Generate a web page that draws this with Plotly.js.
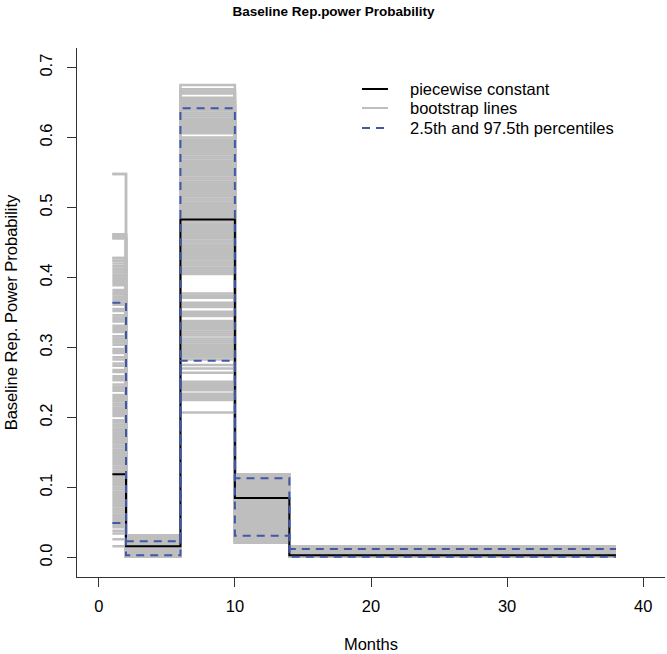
<!DOCTYPE html>
<html>
<head>
<meta charset="utf-8">
<script src="https://cdn.plot.ly/plotly-3.0.1.min.js"></script>
<style>
  html, body { margin: 0; padding: 0; background: #ffffff; }
  #chart { width: 667px; height: 654px; }
</style>
</head>
<body>
<div id="chart"></div>
<script>
// Interval breakpoints (months) of the piecewise-constant model
const breaks = [1, 2, 6, 10, 14, 38];

// Piecewise constant estimate per interval
const piecewise = [0.119, 0.016, 0.483, 0.085, 0.003];

// 2.5th and 97.5th percentiles per interval
const pctUpper = [0.364, 0.023, 0.642, 0.113, 0.012];
const pctLower = [0.049, 0.003, 0.281, 0.031, 0.001];

// Bootstrap values read per interval
const bootI1 = [0.548, 0.462, 0.459, 0.456, 0.428, 0.424, 0.420, 0.416, 0.413, 0.410, 0.407, 0.404, 0.401, 0.398, 0.395, 0.392, 0.389,
  0.382, 0.379, 0.376, 0.373, 0.370, 0.367, 0.364, 0.361, 0.355, 0.352, 0.346, 0.343, 0.340, 0.337, 0.331, 0.328, 0.325, 0.322,
  0.316, 0.313, 0.310, 0.307, 0.304, 0.298, 0.295, 0.292, 0.286, 0.283, 0.277, 0.274, 0.268, 0.265, 0.259, 0.256, 0.253,
  0.247, 0.244, 0.241, 0.238, 0.232, 0.229, 0.226, 0.223, 0.220, 0.217, 0.214, 0.211, 0.208, 0.205, 0.202, 0.196, 0.193,
  0.190, 0.187, 0.184, 0.181, 0.178, 0.175, 0.172, 0.169, 0.166, 0.163, 0.160, 0.157, 0.154, 0.151, 0.148, 0.145, 0.142,
  0.139, 0.136, 0.133, 0.130, 0.127, 0.124, 0.121, 0.118, 0.115, 0.112, 0.109, 0.106, 0.103, 0.100, 0.097, 0.094, 0.091,
  0.088, 0.085, 0.082, 0.079, 0.076, 0.073, 0.070, 0.067, 0.064, 0.061, 0.058, 0.055, 0.052, 0.049, 0.046, 0.043,
  0.038, 0.034, 0.026, 0.016];
const bootI2 = [0.001, 0.004, 0.007, 0.010, 0.013, 0.016, 0.019, 0.022, 0.025, 0.028, 0.031];
const bootI3 = [0.675, 0.669, 0.666, 0.663, 0.657, 0.654, 0.651, 0.648, 0.645, 0.642, 0.639, 0.636, 0.633, 0.630, 0.627,
  0.624, 0.621, 0.618, 0.615, 0.612, 0.609, 0.606, 0.600, 0.597, 0.594, 0.591, 0.588, 0.585, 0.582, 0.579, 0.576, 0.573,
  0.570, 0.567, 0.564, 0.561, 0.558, 0.555, 0.552, 0.549, 0.546, 0.543, 0.540, 0.537, 0.534, 0.531, 0.528, 0.525, 0.522,
  0.519, 0.516, 0.513, 0.510, 0.507, 0.504, 0.501, 0.498, 0.495, 0.492, 0.489, 0.486, 0.483, 0.480, 0.477, 0.474, 0.471,
  0.468, 0.465, 0.462, 0.459, 0.456, 0.453, 0.450, 0.447, 0.444, 0.441, 0.438, 0.435, 0.432, 0.429, 0.426, 0.423, 0.420,
  0.417, 0.414, 0.411, 0.408, 0.405,
  0.377, 0.374, 0.371, 0.364, 0.361, 0.358, 0.351, 0.348, 0.345, 0.338, 0.335, 0.332, 0.329, 0.326, 0.323, 0.320, 0.317,
  0.313, 0.310, 0.307, 0.304, 0.301, 0.298, 0.295, 0.292, 0.289, 0.286, 0.283,
  0.275, 0.270, 0.264, 0.251, 0.248, 0.245, 0.242, 0.239, 0.234, 0.231, 0.228, 0.225, 0.207];
const bootI4 = [0.021, 0.024, 0.027, 0.030, 0.033, 0.036, 0.039, 0.042, 0.045, 0.048, 0.051, 0.054, 0.057, 0.060, 0.063,
  0.066, 0.069, 0.072, 0.075, 0.078, 0.081, 0.084, 0.087, 0.090, 0.093, 0.096, 0.099, 0.102, 0.105, 0.108, 0.111, 0.114,
  0.117, 0.119];
const bootI5 = [0.001, 0.004, 0.007, 0.010, 0.013, 0.015];

// Axis ticks
const xTicks = [0, 10, 20, 30, 40];
const yTicks = [0, 0.1, 0.2, 0.3, 0.4, 0.5, 0.6, 0.7];
const yTickText = ['0.0', '0.1', '0.2', '0.3', '0.4', '0.5', '0.6', '0.7'];

// ---- build step series (R type = "s": last value repeated at the end) ----
function stepY(vals) { return vals.concat([vals[vals.length - 1]]); }

const bootSets = [bootI1, bootI2, bootI3, bootI4, bootI5];
const nBoot = Math.max(...bootSets.map(a => a.length));
const bx = [], by = [];
for (let i = 0; i < nBoot; i++) {
  const vals = bootSets.map(a => a[i % a.length]);
  const ys = stepY(vals);
  for (let k = 0; k < breaks.length; k++) { bx.push(breaks[k]); by.push(ys[k]); }
  bx.push(null); by.push(null);
}

const GRAY = '#BEBEBE';
const BLUE = '#4257A8';
const FONT = 'Liberation Sans, Arial, Helvetica, sans-serif';

const traces = [
  { x: bx, y: by, type: 'scatter', mode: 'lines', name: 'bootstrap lines',
    line: { color: GRAY, width: 2.5, shape: 'hv' }, connectgaps: false, hoverinfo: 'skip' },
  { x: breaks, y: stepY(piecewise), type: 'scatter', mode: 'lines', name: 'piecewise constant',
    line: { color: '#000000', width: 2, shape: 'hv' } },
  { x: breaks, y: stepY(pctUpper), type: 'scatter', mode: 'lines', name: '2.5th and 97.5th percentiles',
    line: { color: BLUE, width: 2, shape: 'hv', dash: '8px,6px' } },
  { x: breaks, y: stepY(pctLower), type: 'scatter', mode: 'lines', name: 'lower percentile',
    line: { color: BLUE, width: 2, shape: 'hv', dash: '8px,6px' } }
];

// legend (drawn like the R box-less legend)
const legendItems = [
  { label: 'piecewise constant', color: '#000000', dash: 'solid', yp: 0.9225 },
  { label: 'bootstrap lines', color: GRAY, dash: 'solid', yp: 0.8866 },
  { label: '2.5th and 97.5th percentiles', color: BLUE, dash: '8px,6px', yp: 0.8488 }
];
const shapes = legendItems.map(it => ({
  type: 'line', xref: 'paper', yref: 'paper', x0: 0.4847, x1: 0.5289, y0: it.yp, y1: it.yp,
  line: { color: it.color, width: 2, dash: it.dash }
}));
const annotations = legendItems.map(it => ({
  xref: 'paper', yref: 'paper', x: 0.5629, y: it.yp, xanchor: 'left', yanchor: 'middle',
  text: it.label, showarrow: false, font: { family: FONT, size: 16.5, color: '#000000' }
}));

const layout = {
  width: 667, height: 654,
  margin: { l: 77, r: 2, t: 48, b: 77 },
  paper_bgcolor: '#ffffff', plot_bgcolor: '#ffffff',
  showlegend: false,
  font: { family: FONT, size: 16.5, color: '#000000' },
  title: { text: '<b>Baseline Rep.power Probability</b>', x: 0.5, xref: 'container', xanchor: 'center',
    y: 0.982, yref: 'container', yanchor: 'middle', font: { family: FONT, size: 13.5, color: '#000000' } },
  xaxis: {
    range: [-1.6, 41.6], tickvals: xTicks, ticktext: xTicks.map(String),
    showgrid: false, zeroline: false, showline: true, linecolor: '#333333', linewidth: 1,
    ticks: 'outside', ticklen: 9, tickcolor: '#333333', tickwidth: 1, ticklabelstandoff: 5,
    tickfont: { family: FONT, size: 16.5, color: '#000000' },
    title: { text: 'Months', standoff: 24, font: { family: FONT, size: 16.5, color: '#000000' } },
    automargin: false
  },
  yaxis: {
    range: [-0.028, 0.728], tickvals: yTicks, ticktext: yTickText, tickangle: -90,
    showgrid: false, zeroline: false, showline: true, linecolor: '#333333', linewidth: 1,
    ticks: 'outside', ticklen: 9, tickcolor: '#333333', tickwidth: 1, ticklabelstandoff: 8,
    tickfont: { family: FONT, size: 16.5, color: '#000000' },
    title: { text: 'Baseline Rep. Power Probability', standoff: 15, font: { family: FONT, size: 16.5, color: '#000000' } },
    automargin: false
  },
  shapes: shapes,
  annotations: annotations
};

Plotly.newPlot('chart', traces, layout, { displayModeBar: false, staticPlot: true });
</script>
</body>
</html>
